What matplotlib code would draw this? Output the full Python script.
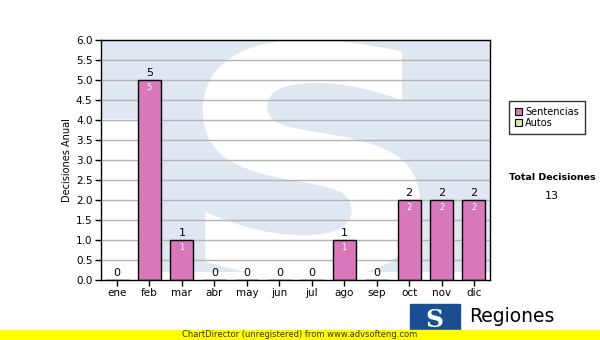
import matplotlib.pyplot as plt
from matplotlib.patches import Rectangle, PathPatch
from matplotlib.textpath import TextPath
from matplotlib.font_manager import FontProperties
from matplotlib.transforms import Affine2D
import numpy as np

months = ["ene", "feb", "mar", "abr", "may", "jun",
          "jul", "ago", "sep", "oct", "nov", "dic"]
sentencias = [0, 5, 1, 0, 0, 0, 0, 1, 0, 2, 2, 2]
autos = [0] * 12
series_names = ["Sentencias", "Autos"]
total = 13
y_ticks = np.arange(0, 6.01, 0.5)

pink = "#d878bb"
green = "#d8eba0"

fig = plt.figure(figsize=(6, 3.4), dpi=100)
ax = fig.add_axes([0.168, 0.176, 0.649, 0.706])

# watermark logo behind the plot
ax.add_patch(Rectangle((0.134, 0.033), 0.866, 0.967, transform=ax.transAxes,
                       color="#dfe8f1", lw=0, zorder=0))
ax.add_patch(Rectangle((0, 0.67), 0.134, 0.33, transform=ax.transAxes,
                       color="#dfe8f1", lw=0, zorder=0))
s_path = TextPath((0, 0), "S", size=1,
                  prop=FontProperties(family="DejaVu Sans", weight="bold"))
ext = s_path.get_extents()
x0, x1, y0, y1 = 0.262, 0.82, 0.008, 1.0
fit = Affine2D().translate(-ext.x0, -ext.y0).scale(
    (x1 - x0) / ext.width, (y1 - y0) / ext.height).translate(x0, y0)
ax.add_patch(PathPatch(fit.transform_path(s_path), transform=ax.transAxes,
                       color="white", lw=0, zorder=0.5, clip_on=True))

for v in y_ticks[1:]:
    ax.axhline(v, color="#b4b4b4", lw=1, zorder=1)

x = np.arange(len(months))
ax.bar(x, sentencias, width=0.71, color=pink, edgecolor="black",
       lw=1, zorder=2, label=series_names[0])
ax.bar(x, autos, width=0.71, bottom=sentencias, color=green,
       edgecolor="black", lw=0, zorder=2, label=series_names[1])

for xi, v in zip(x, sentencias):
    ax.text(xi, v + 0.05, str(v), ha="center", va="bottom", fontsize=8,
            color="black", zorder=3)
    if v > 0:
        ax.text(xi, v - 0.07, str(v), ha="center", va="top", fontsize=6,
                color="white", zorder=3)

ax.set_xlim(-0.5, 11.5)
ax.set_ylim(0, 6)
ax.set_xticks(x)
ax.set_xticklabels(months, fontsize=7.5)
ax.set_yticks(y_ticks)
ax.set_yticklabels([f"{v:.1f}" for v in y_ticks], fontsize=7.5)
ax.tick_params(length=4, width=1, pad=2)
ax.set_ylabel("Decisiones Anual", fontsize=7, labelpad=3)
for s in ax.spines.values():
    s.set_linewidth(1)

leg = fig.legend(handles=[Rectangle((0, 0), 1, 1, fc=pink, ec="black", lw=0.8),
                          Rectangle((0, 0), 1, 1, fc=green, ec="black", lw=0.8)],
                 labels=series_names, loc="upper left",
                 bbox_to_anchor=(0.848, 0.703), fontsize=7, frameon=True,
                 fancybox=False, edgecolor="black", handlelength=0.8,
                 handleheight=0.8, handletextpad=0.3, labelspacing=0.1,
                 borderpad=0.6, borderaxespad=0)
leg.get_frame().set_linewidth(1)

fig.text(0.92, 0.478, "Total Decisiones", ha="center", va="center",
         fontsize=6.8, fontweight="bold")
fig.text(0.92, 0.423, str(total), ha="center", va="center", fontsize=8)

# logo at the bottom right
fig.patches.append(Rectangle((0.683, 0.02), 0.083, 0.085,
                             transform=fig.transFigure, color="#1a4f94",
                             zorder=1))
fig.text(0.724, 0.06, "S", ha="center", va="center", fontsize=18,
         fontweight="bold", family="DejaVu Serif", color="white")
fig.text(0.782, 0.07, "Regiones", ha="left", va="center", fontsize=13.5)

# yellow footer
fig.patches.append(Rectangle((0, 0), 1, 0.03, transform=fig.transFigure,
                             color="#ffff00", zorder=2))
fig.text(0.5, 0.015, "ChartDirector (unregistered) from www.advsofteng.com",
         ha="center", va="center", fontsize=6, color="#333300", zorder=3)

fig.savefig("out.png", dpi=100)
